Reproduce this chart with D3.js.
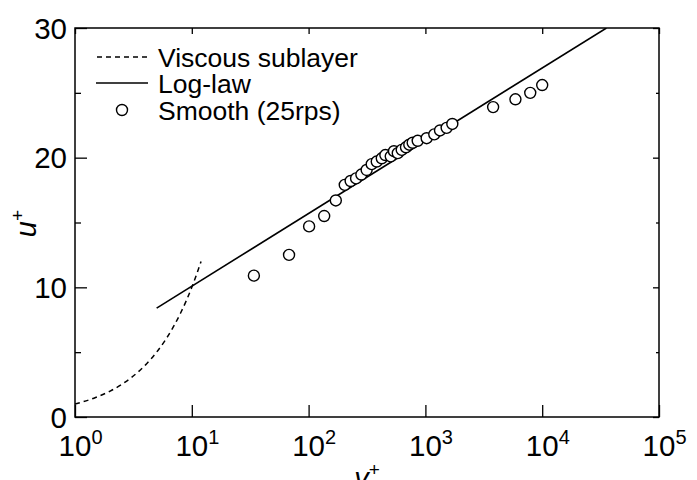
<!DOCTYPE html>
<html lang="en">
<head>
<meta charset="utf-8">
<title>Velocity profile u+ vs y+</title>
<script src="https://d3js.org/d3.v7.min.js"></script>
<style>
    body { margin: 0; background: #fff; }
    svg text { font-family: "Liberation Sans", Arial, sans-serif; fill: #000; }
    .tick line { stroke: #000; stroke-width: 1.3; }
</style>
</head>
<body>
<div id="chart"></div>
<script>
    const w = 697;
    const h = 480;
    const margin = { top: 28, right: 38, bottom: 63, left: 75 };

    // axis ticks
    const xDecades = [0, 1, 2, 3, 4, 5];
    const yTicks = [0, 10, 20, 30];
    const yMinorTicks = [5, 15, 25];

    // viscous sublayer (u+ = y+)
    const viscousYPlus = [1, 1.5, 2, 2.5, 3, 4, 5, 6, 7, 8, 9, 10, 11, 12];
    const viscousUPlus = [1, 1.5, 2, 2.5, 3, 4, 5, 6, 7, 8, 9, 10, 11, 12];

    // log-law line end points
    const logLawYPlus = [5, 35500];
    const logLawUPlus = [8.4, 30];

    // measured points, smooth wall 25rps
    const smoothYPlus = [34, 68, 101, 136, 171, 204, 229, 255, 283, 314, 347, 383, 423, 454, 505, 538, 580,
        627, 682, 728, 778, 859, 1025, 1191, 1334, 1520, 1700, 3800, 5900, 7900, 10000];
    const smoothUPlus = [10.9, 12.5, 14.7, 15.5, 16.7, 17.9, 18.2, 18.4, 18.7, 19.05, 19.5, 19.7, 19.95, 20.2, 20.1, 20.5, 20.35,
        20.6, 20.8, 21.0, 21.15, 21.3, 21.5, 21.8, 22.1, 22.3, 22.6, 23.9, 24.5, 25.0, 25.6];

    const legendLabels = ["Viscous sublayer", "Log-law", "Smooth (25rps)"];

    const viscous = viscousYPlus.map((d, i) => ({ y: d, u: viscousUPlus[i] }));
    const logLaw = logLawYPlus.map((d, i) => ({ y: d, u: logLawUPlus[i] }));
    const smooth = smoothYPlus.map((d, i) => ({ y: d, u: smoothUPlus[i] }));

    const svg = d3.select("#chart").append("svg")
        .attr("width", w)
        .attr("height", h);

    const x = d3.scaleLog()
        .domain([1, 1e5])
        .range([margin.left, w - margin.right]);

    const y = d3.scaleLinear()
        .domain([0, 30])
        .range([h - margin.bottom, margin.top]);

    svg.append("clipPath").attr("id", "plot-clip")
        .append("rect")
        .attr("x", margin.left).attr("y", margin.top)
        .attr("width", w - margin.left - margin.right)
        .attr("height", h - margin.top - margin.bottom);

    // ticks (inward) on all four sides
    const decadeVals = xDecades.map(d => Math.pow(10, d));

    svg.append("g")
        .attr("transform", `translate(0, ${h - margin.bottom})`)
        .call(d3.axisBottom(x).tickValues(decadeVals).tickSizeInner(-12).tickSizeOuter(0).tickFormat(""))
        .call(g => g.select(".domain").remove());

    svg.append("g")
        .attr("transform", `translate(0, ${margin.top})`)
        .call(d3.axisTop(x).tickValues(decadeVals).tickSizeInner(-6).tickSizeOuter(0).tickFormat(""))
        .call(g => g.select(".domain").remove());

    svg.append("g")
        .attr("transform", `translate(${margin.left}, 0)`)
        .call(d3.axisLeft(y).tickValues(yTicks).tickSizeInner(-12).tickSizeOuter(0).tickFormat(""))
        .call(g => g.select(".domain").remove());

    svg.append("g")
        .attr("transform", `translate(${margin.left}, 0)`)
        .call(d3.axisLeft(y).tickValues(yMinorTicks).tickSizeInner(-6).tickSizeOuter(0).tickFormat(""))
        .call(g => g.select(".domain").remove());

    svg.append("g")
        .attr("transform", `translate(${w - margin.right}, 0)`)
        .call(d3.axisRight(y).tickValues(yTicks).tickSizeInner(-6).tickSizeOuter(0).tickFormat(""))
        .call(g => g.select(".domain").remove());

    svg.append("g")
        .attr("transform", `translate(${w - margin.right}, 0)`)
        .call(d3.axisRight(y).tickValues(yMinorTicks).tickSizeInner(-3).tickSizeOuter(0).tickFormat(""))
        .call(g => g.select(".domain").remove());

    // frame
    svg.append("rect")
        .attr("x", margin.left).attr("y", margin.top)
        .attr("width", w - margin.left - margin.right)
        .attr("height", h - margin.top - margin.bottom)
        .attr("fill", "none")
        .attr("stroke", "#000")
        .attr("stroke-width", 1.5);

    // tick labels
    svg.append("g").selectAll("text")
        .data(yTicks)
        .join("text")
        .attr("x", margin.left - 8)
        .attr("y", d => y(d) + 10.5)
        .attr("text-anchor", "end")
        .attr("font-size", 29.5)
        .text(d => d);

    const xLabels = svg.append("g").selectAll("text")
        .data(xDecades)
        .join("text")
        .attr("x", d => x(Math.pow(10, d)) - 16.4)
        .attr("y", h - margin.bottom + 39)
        .attr("font-size", 29.5);
    xLabels.append("tspan").text("10");
    xLabels.append("tspan")
        .attr("font-size", 20)
        .attr("dy", -12)
        .text(d => d);

    // axis titles
    const xTitle = svg.append("text")
        .attr("x", (margin.left + w - margin.right) / 2)
        .attr("y", 488)
        .attr("text-anchor", "middle")
        .attr("font-size", 29)
        .attr("font-style", "italic");
    xTitle.append("tspan").text("y");
    xTitle.append("tspan").attr("font-size", 19).attr("font-style", "normal").attr("dy", -12).text("+");

    const yTitle = svg.append("text")
        .attr("transform", `translate(36, ${(margin.top + h - margin.bottom) / 2 + 1}) rotate(-90)`)
        .attr("text-anchor", "middle")
        .attr("font-size", 29)
        .attr("font-style", "italic");
    yTitle.append("tspan").text("u");
    yTitle.append("tspan").attr("font-size", 19).attr("font-style", "normal").attr("dy", -12).text("+");

    // data
    const plot = svg.append("g").attr("clip-path", "url(#plot-clip)");

    const line = d3.line()
        .x(d => x(d.y))
        .y(d => y(d.u));

    plot.append("path")
        .datum(viscous)
        .attr("d", line.curve(d3.curveMonotoneX))
        .attr("fill", "none")
        .attr("stroke", "#000")
        .attr("stroke-width", 1.5)
        .attr("stroke-dasharray", "5,4");

    plot.append("path")
        .datum(logLaw)
        .attr("d", d3.line().x(d => x(d.y)).y(d => y(d.u)))
        .attr("fill", "none")
        .attr("stroke", "#000")
        .attr("stroke-width", 1.6);

    plot.selectAll("circle")
        .data(smooth)
        .join("circle")
        .attr("cx", d => x(d.y))
        .attr("cy", d => y(d.u))
        .attr("r", 5.5)
        .attr("fill", "#fff")
        .attr("stroke", "#000")
        .attr("stroke-width", 1.4);

    // legend
    const legend = svg.append("g");
    const rowY = [57, 83, 110];

    legend.append("line")
        .attr("x1", 97).attr("x2", 147)
        .attr("y1", rowY[0]).attr("y2", rowY[0])
        .attr("stroke", "#000").attr("stroke-width", 1.5)
        .attr("stroke-dasharray", "5,4");

    legend.append("line")
        .attr("x1", 96).attr("x2", 148)
        .attr("y1", rowY[1]).attr("y2", rowY[1])
        .attr("stroke", "#000").attr("stroke-width", 1.6);

    legend.append("circle")
        .attr("cx", 122).attr("cy", rowY[2])
        .attr("r", 5.5)
        .attr("fill", "#fff")
        .attr("stroke", "#000").attr("stroke-width", 1.4);

    legend.selectAll("text")
        .data(legendLabels)
        .join("text")
        .attr("x", 158)
        .attr("y", (d, i) => rowY[i] + 10)
        .attr("font-size", 26.5)
        .text(d => d);
</script>
</body>
</html>
